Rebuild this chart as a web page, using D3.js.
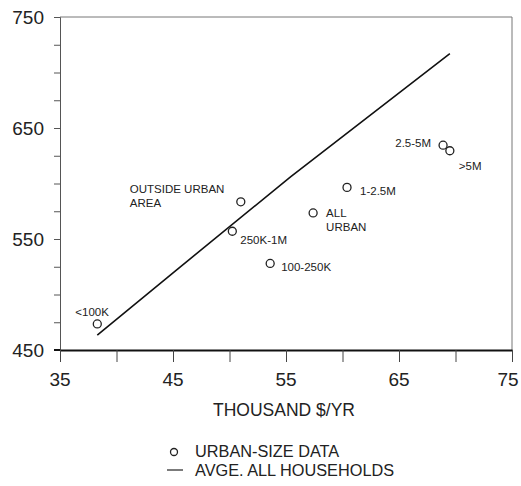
<!DOCTYPE html>
<html>
    <head>
        <title>Urban size vs household income</title>
        <script src="https://d3js.org/d3.v7.min.js"></script>
        <style>
            body {
                margin: 0;
                background: white;
            }
            svg {
                font-family: "Liberation Sans", Arial, sans-serif;
            }
        </style>
    </head>
    <body>
        <svg width="521" height="486"></svg>
    </body>
    <script>

        // ---- data ----
        // urban-size points (income, thousand $/yr ; value)
        let pointNames  = ['<100K', 'OUTSIDE URBAN|AREA', '250K-1M', '100-250K', 'ALL|URBAN', '1-2.5M', '2.5-5M', '>5M'];
        let pointIncome = [38.3, 51.0, 50.25, 53.6, 57.4, 60.4, 68.9, 69.5];
        let pointValue  = [473.5, 583.5, 557, 528, 573.5, 596.5, 634.5, 629.5];

        // average, all households line
        let avgIncome = [38.3, 45.3, 55.4, 69.5];
        let avgValue  = [463.5, 522, 606, 717];

        // axis ticks
        let xTicks = [35, 40, 45, 50, 55, 60, 65, 70, 75];
        let xTickLabels = [35, 45, 55, 65, 75];
        let yTicks = [450, 475, 500, 525, 550, 575, 600, 625, 650, 675, 700, 725, 750];
        let yTickLabels = [450, 550, 650, 750];

        let xTitle = 'THOUSAND $/YR';
        let legendLabels = ['URBAN-SIZE DATA', 'AVGE. ALL HOUSEHOLDS'];

        // label placement next to each point (pixels, anchor)
        let labelPlacement = {
            '<100K':              { dx: -22, dy: -8,  anchor: 'start' },
            'OUTSIDE URBAN|AREA': { dx: -111, dy: -9, anchor: 'start' },
            '250K-1M':            { dx: 8,   dy: 13,  anchor: 'start' },
            '100-250K':           { dx: 11,  dy: 8,   anchor: 'start' },
            'ALL|URBAN':          { dx: 13,  dy: 4,   anchor: 'start' },
            '1-2.5M':             { dx: 13,  dy: 8,   anchor: 'start' },
            '2.5-5M':             { dx: -12, dy: 2,   anchor: 'end' },
            '>5M':                { dx: 9,   dy: 19,  anchor: 'start' }
        };

        let points = pointNames.map((n, i) => ({ name: n, x: pointIncome[i], y: pointValue[i] }));
        let avgLine = avgIncome.map((x, i) => ({ x: x, y: avgValue[i] }));

        // ---- layout ----
        let svg = d3.select('svg');
        let textColor = '#222';

        let xScale = d3.scaleLinear().domain([35, 75]).range([60, 512]);
        let yScale = d3.scaleLinear().domain([450, 750]).range([350, 17]);

        // frame: top and right thin border
        svg.append('path')
            .attr('d', `M${xScale(35)},${yScale(750)}H${xScale(75)}V${yScale(450)}`)
            .style('fill', 'none')
            .style('stroke', '#777')
            .style('stroke-width', 1);

        // left axis with small outward ticks
        let yAxis = d3.axisLeft(yScale)
                        .tickValues(yTicks)
                        .tickSize(6)
                        .tickFormat('');
        let yAxisG = svg.append('g')
                        .attr('transform', `translate(${xScale(35)},0)`)
                        .call(yAxis);
        yAxisG.selectAll('path, line').style('stroke', '#555').style('stroke-width', 1);

        svg.selectAll('.y-label')
            .data(yTickLabels)
            .join('text')
            .classed('y-label', true)
            .attr('x', 44)
            .attr('y', d => yScale(d) + 7)
            .attr('text-anchor', 'end')
            .style('font-size', '19px')
            .style('fill', textColor)
            .text(d => d);

        // bottom axis, heavier line, ticks pointing down
        let xAxis = d3.axisBottom(xScale)
                        .tickValues(xTicks)
                        .tickSize(12)
                        .tickSizeOuter(0)
                        .tickFormat('');
        let xAxisG = svg.append('g')
                        .attr('transform', `translate(0,${yScale(450)})`)
                        .call(xAxis);
        xAxisG.select('path').style('stroke', '#111').style('stroke-width', 2);
        xAxisG.selectAll('line').style('stroke', '#444').style('stroke-width', 1);
        // bottom line runs a little past the left axis
        svg.append('line')
            .attr('x1', xScale(35) - 6)
            .attr('x2', xScale(35))
            .attr('y1', yScale(450))
            .attr('y2', yScale(450))
            .style('stroke', '#111')
            .style('stroke-width', 2);

        // keep the last label inside the page
        svg.selectAll('.x-label')
            .data(xTickLabels)
            .join('text')
            .classed('x-label', true)
            .attr('x', d => Math.min(xScale(d), 508))
            .attr('y', 386)
            .attr('text-anchor', 'middle')
            .style('font-size', '19px')
            .style('fill', textColor)
            .text(d => d);

        svg.append('text')
            .attr('x', (xScale(35) + xScale(75)) / 2 - 2)
            .attr('y', 416)
            .attr('text-anchor', 'middle')
            .style('font-size', '17.5px')
            .style('fill', textColor)
            .text(xTitle);

        // average line
        let line = d3.line()
                    .x(d => xScale(d.x))
                    .y(d => yScale(d.y));
        svg.append('path')
            .datum(avgLine)
            .attr('d', line)
            .style('fill', 'none')
            .style('stroke', '#111')
            .style('stroke-width', 1.6);

        // urban-size points
        svg.selectAll('.pt')
            .data(points)
            .join('circle')
            .classed('pt', true)
            .attr('cx', d => xScale(d.x))
            .attr('cy', d => yScale(d.y))
            .attr('r', 4)
            .style('fill', 'white')
            .style('stroke', '#222')
            .style('stroke-width', 1.3);

        // point labels (| splits into two lines)
        let labels = svg.selectAll('.pt-label')
            .data(points)
            .join('text')
            .classed('pt-label', true)
            .attr('x', d => xScale(d.x) + labelPlacement[d.name].dx)
            .attr('y', d => yScale(d.y) + labelPlacement[d.name].dy)
            .attr('text-anchor', d => labelPlacement[d.name].anchor)
            .style('font-size', '11.5px')
            .style('fill', textColor);
        labels.selectAll('tspan')
            .data(d => d.name.split('|').map(s => ({ s: s, x: xScale(d.x) + labelPlacement[d.name].dx })))
            .join('tspan')
            .attr('x', d => d.x)
            .attr('dy', (d, i) => i === 0 ? 0 : 14)
            .text(d => d.s);

        // legend
        let legend = svg.append('g');
        legend.append('circle')
            .attr('cx', 174)
            .attr('cy', 452)
            .attr('r', 3.5)
            .style('fill', 'white')
            .style('stroke', '#222')
            .style('stroke-width', 1.3);
        legend.append('line')
            .attr('x1', 167)
            .attr('x2', 183)
            .attr('y1', 470)
            .attr('y2', 470)
            .style('stroke', '#333')
            .style('stroke-width', 1.3);
        legend.selectAll('.legend-label')
            .data(legendLabels)
            .join('text')
            .classed('legend-label', true)
            .attr('x', 195)
            .attr('y', (d, i) => 457 + i * 19)
            .style('font-size', '16.3px')
            .style('fill', textColor)
            .text(d => d);

    </script>
</html>
